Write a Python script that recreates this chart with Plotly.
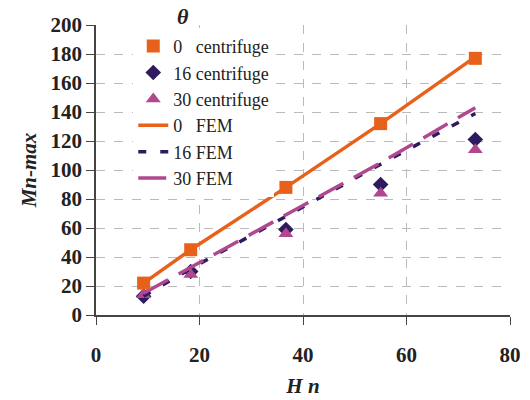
import plotly.graph_objects as go

# Data
H_n = [9.2, 18.3, 36.7, 55.0, 73.3]
cent_0 = [22, 45, 88, 132, 177]
cent_16 = [13, 30, 59, 90, 121]
cent_30 = [14, 28, 56, 84, 114]
fem_0 = [22, 45, 88, 132, 178]
fem_16 = [13, 32, 68, 104, 139]
fem_30 = [15, 33, 69, 105, 143]

names = ["0\u00a0\u00a0\u00a0centrifuge", "16 centrifuge", "30 centrifuge",
         "0\u00a0\u00a0\u00a0FEM", "16 FEM", "30 FEM"]

ORANGE = "#E8611A"
NAVY = "#2E1A5E"
PINK = "#B0478F"
SERIF = "Liberation Serif"

fig = go.Figure()

fig.add_trace(go.Scatter(x=H_n, y=cent_16, mode="markers", name=names[1], legendrank=2,
                         marker=dict(symbol="diamond", size=12, color=NAVY)))
fig.add_trace(go.Scatter(x=H_n, y=cent_30, mode="markers", name=names[2], legendrank=3,
                         marker=dict(symbol="triangle-up", size=13, color=PINK)))
fig.add_trace(go.Scatter(x=H_n, y=fem_0, mode="lines", name=names[3], legendrank=4,
                         line=dict(color=ORANGE, width=3.5)))
fig.add_trace(go.Scatter(x=H_n, y=fem_16, mode="lines", name=names[4], legendrank=5,
                         line=dict(color=NAVY, width=3.5, dash="8px,14px")))
fig.add_trace(go.Scatter(x=H_n, y=fem_30, mode="lines", name=names[5], legendrank=6,
                         line=dict(color=PINK, width=3.5, dash="28px,12px")))
fig.add_trace(go.Scatter(x=H_n, y=cent_0, mode="markers", name=names[0], legendrank=1,
                         marker=dict(symbol="square", size=13, color=ORANGE)))

tickfont = dict(family=SERIF, size=21, color="#222222", weight="bold")
titlefont = dict(family=SERIF, size=21, color="#222222", weight="bold", style="italic")

fig.update_layout(
    width=530, height=400,
    margin=dict(l=96, r=20, t=25, b=85),
    paper_bgcolor="white", plot_bgcolor="white",
    showlegend=True,
    legend=dict(x=0.09, y=0.99, xanchor="left", yanchor="top",
                bgcolor="white", borderwidth=0,
                font=dict(family=SERIF, size=18, color="#222222"),
                tracegroupgap=0, itemsizing="trace"),
    xaxis=dict(range=[0, 80], tickvals=[0, 20, 40, 60, 80],
               tickfont=tickfont, ticks="outside", ticklen=8, tickcolor="#444",
               showline=True, linecolor="#444", linewidth=1.5,
               showgrid=True, gridcolor="#BBBBBB", griddash="dash", gridwidth=1,
               zeroline=False, ticklabelstandoff=12, automargin=False,
               title=dict(text="H n", font=titlefont, standoff=12)),
    yaxis=dict(range=[0, 200], tickvals=list(range(0, 201, 20)),
               tickfont=tickfont, ticks="outside", ticklen=8, tickcolor="#444",
               showline=True, linecolor="#444", linewidth=1.5,
               showgrid=True, gridcolor="#BBBBBB", griddash="dash", gridwidth=1,
               zeroline=False, automargin=False,
               title=dict(text="Mn-max", font=titlefont, standoff=8)),
)

fig.add_annotation(text="θ", xref="paper", yref="paper",
                   x=(183 - 96) / 414, y=1 + (25 - 16) / 290,
                   xanchor="center", yanchor="middle",
                   showarrow=False,
                   font=dict(family=SERIF, size=22, color="#222222", weight="bold", style="italic"))

fig.write_html("out.html")
